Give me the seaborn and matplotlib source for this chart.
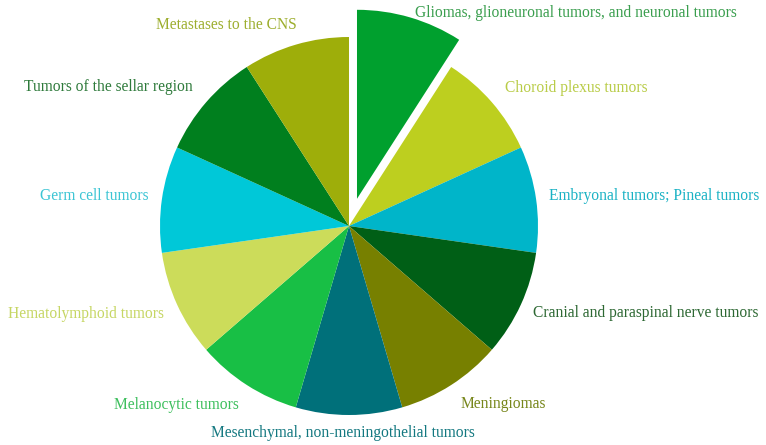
import matplotlib
matplotlib.use("Agg")
import matplotlib.pyplot as plt
import seaborn as sns

categories = [
    "Gliomas, glioneuronal tumors, and neuronal tumors",
    "Choroid plexus tumors",
    "Embryonal tumors; Pineal tumors",
    "Cranial and paraspinal nerve tumors",
    "Meningiomas",
    "Mesenchymal, non-meningothelial tumors",
    "Melanocytic tumors",
    "Hematolymphoid tumors",
    "Germ cell tumors",
    "Tumors of the sellar region",
    "Metastases to the CNS",
]
values = [1, 1, 1, 1, 1, 1, 1, 1, 1, 1, 1]
explode = [0.15, 0, 0, 0, 0, 0, 0, 0, 0, 0, 0]

slice_colors = ["#00A02E", "#BDCF1F", "#00B5C9", "#005F16", "#778000", "#00707A",
                "#18BF45", "#CCDC5A", "#00C8D8", "#007F1E", "#9EAE0A"]
label_colors = ["#3A9E4E", "#B9CC48", "#1AB2C4", "#2D6833", "#77861A", "#137880",
                "#3DBF5D", "#C6D664", "#3CC5D4", "#2E7A3B", "#9DAE2E"]

# layout: label anchor positions in figure pixels (x, y from top) and alignment
label_px = [(415, 13), (505, 88), (549, 196), (533, 313), (461, 404), (343, 433),
            (176, 405), (164, 314), (148, 196), (193, 87), (297, 25)]
label_ha = ["left", "left", "left", "left", "left", "center",
            "center", "right", "right", "right", "right"]

W, H = 766, 445
CX, CY, R = 349, 226, 189

sns.set_theme(style="white")
fig = plt.figure(figsize=(W / 100, H / 100), dpi=100)
ax = fig.add_axes([0, 0, 1, 1])
palette = sns.color_palette(slice_colors)
ax.pie(values, colors=palette, explode=explode, startangle=90, counterclock=False,
       radius=1, center=(0, 0), wedgeprops=dict(linewidth=0))
ax.set_aspect("auto")
ax.set_xlim(-CX / R, (W - CX) / R)
ax.set_ylim(-(H - CY) / R, CY / R)
ax.axis("off")

for name, col, (px, py), ha in zip(categories, label_colors, label_px, label_ha):
    fig.text(px / W, 1 - py / H, name, color=col, ha=ha, va="center",
             fontsize=11.2, family=["Liberation Serif", "DejaVu Serif"])

fig.savefig("out.png", dpi=100, facecolor="white")
